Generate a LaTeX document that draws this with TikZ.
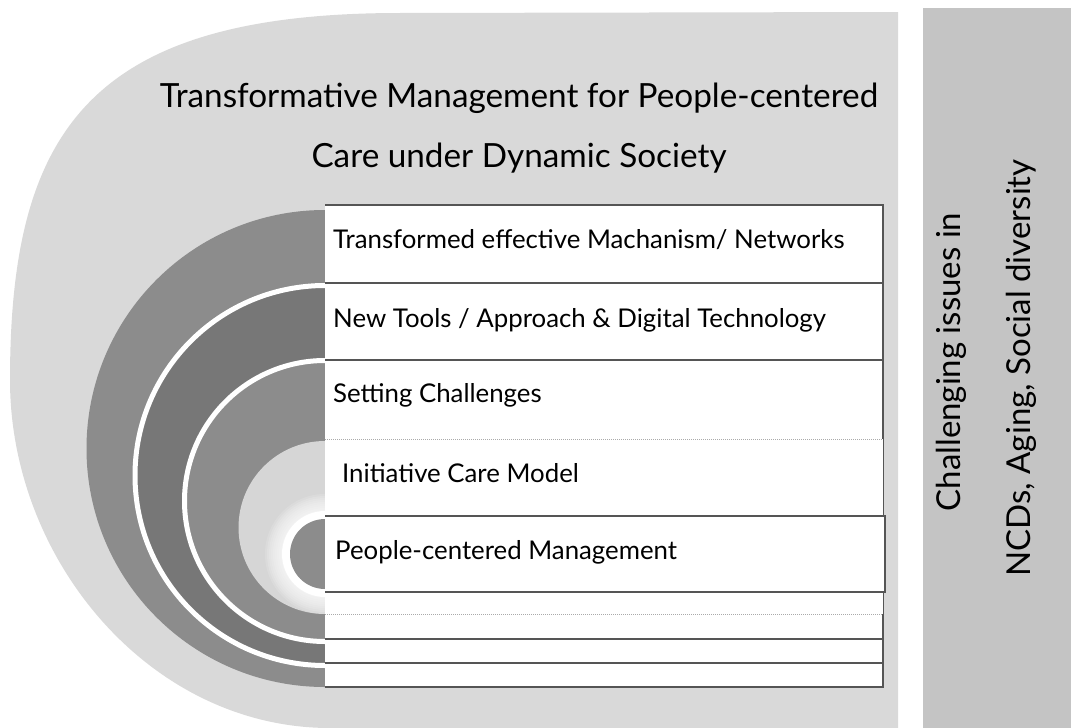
\documentclass[tikz,border=0pt]{standalone}
\usepackage{fontspec}
\setmainfont{Lato}
\definecolor{bggray}{HTML}{D9D9D9}
\definecolor{panelgray}{HTML}{C4C4C4}
\definecolor{ringmid}{HTML}{8C8C8C}
\definecolor{ringdark}{HTML}{777777}
\definecolor{ringlight}{HTML}{D6D6D6}
\definecolor{linegray}{HTML}{555555}
\definecolor{dotgray}{HTML}{AAAAAA}
\begin{document}
\begin{tikzpicture}[x=1pt,y=-1pt,
  boxline/.style={draw=linegray, line width=1.6pt},
  boxdot/.style={draw=dotgray, line width=1pt, densely dotted},
  rowtext/.style={anchor=base west, inner sep=0pt, text=black, font=\fontsize{25.8}{30}\selectfont},
  titletext/.style={anchor=base, inner sep=0pt, text=black, font=\fontsize{33.3}{40}\selectfont},
  paneltext/.style={anchor=base, inner sep=0pt, rotate=90, text=black, font=\fontsize{33}{40}\selectfont},
  gapring/.style={draw=white, line width=5pt}]
\useasboundingbox (0,0) rectangle (1071,728);
% background shape
\fill[bggray] (898,12) -- (400,13) .. controls (90,13) and (10,130) .. (10,380)
  .. controls (10,560) and (150,728) .. (330,728) -- (898,728) -- cycle;
% right panel
\fill[panelgray] (923,8) rectangle (1071,728);
% nested half discs
\begin{scope}
\clip (0,0) rectangle (325,728);
\fill[ringmid] (325,448.5) circle[radius=238.5];
\filldraw[fill=ringdark, gapring] (325,475.5) circle[radius=190];
\filldraw[fill=ringmid, gapring] (325,501) circle[radius=140.5];
\fill[ringlight] (325,527.5) circle[radius=86.5];
\foreach \r in {60,58,...,44} {\fill[white, opacity=0.14] (325,554) circle[radius=\r];}
\fill[white] (325,554) circle[radius=43];
\fill[ringmid] (325,554) circle[radius=35];
\end{scope}
% nested boxes
\fill[white] (325,205) rectangle (883,687);
\draw[boxline] (325,205) -- (883,205) -- (883,687) -- (325,687);
\fill[white] (325,283) rectangle (883,663);
\draw[boxline] (325,283) -- (883,283) -- (883,663) -- (325,663);
\fill[white] (325,360) rectangle (883,639);
\draw[boxline] (325,360) -- (883,360) -- (883,639) -- (325,639);
\fill[white] (325,439) rectangle (883,614);
\draw[boxdot] (325,439) -- (883,439);
\draw[boxdot] (325,614) -- (883,614);
\fill[white] (325,516) rectangle (885,592);
\draw[boxline] (325,516) -- (885,516) -- (885,592) -- (325,592);
% texts
\node[titletext] (title1) at (519,107) {Transformative Management for People-centered};
\node[titletext] (title2) at (519,167) {Care under Dynamic Society};
\node[rowtext] (t1) at (333,248) {Transformed effective Machanism/ Networks};
\node[rowtext] (t2) at (333,327) {New Tools / Approach \& Digital Technology};
\node[rowtext] (t3) at (333,402) {Setting Challenges};
\node[rowtext] (t4) at (342,482) {Initiative Care Model};
\node[rowtext] (t5) at (335,559) {People-centered Management};
\node[paneltext] (p1) at (960,362) {Challenging issues in};
\node[paneltext] (p2) at (1030,368) {NCDs, Aging, Social diversity};
\end{tikzpicture}
\end{document}
